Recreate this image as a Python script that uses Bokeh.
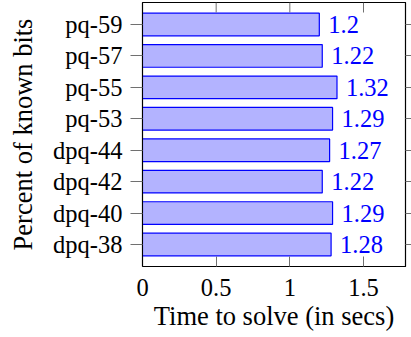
import math
from bokeh.plotting import figure
from bokeh.models import Range1d, FixedTicker, LinearAxis
from bokeh.embed import file_html
from bokeh.resources import INLINE
from bokeh.core.properties import value

# Data (top to bottom as shown)
categories = ["pq-59", "pq-57", "pq-55", "pq-53", "dpq-44", "dpq-42", "dpq-40", "dpq-38"]
times = [1.2, 1.22, 1.32, 1.29, 1.27, 1.22, 1.29, 1.28]
x_ticks = [0, 0.5, 1, 1.5]
x_tick_labels = ["0", "0.5", "1", "1.5"]

n = len(categories)
ypos = [n - 1 - i for i in range(n)]
labels = [f"{v:g}" for v in times]

FONT = "Liberation Serif"
FS = "24.5px"
TFS = "26.5px"
TICK_COLOR = "#707070"
Y_END = n - 1 + 0.7

p = figure(width=411, height=337, output_backend="svg", toolbar_location=None, title=None,
           x_range=Range1d(0, 1.785), y_range=Range1d(-0.7, Y_END),
           min_border_left=142, min_border_right=0, min_border_top=2, min_border_bottom=71)

p.hbar(y=ypos, left=0, right=times, height=0.72,
       fill_color="#b3b3ff", line_color="#0000ff", line_width=1.2)
p.text(x=times, y=ypos, text=labels, x_offset=9, text_align="left", text_baseline="middle",
       text_color="#0000ff", text_font=value(FONT), text_font_size=FS)

# top ticks (inside the frame)
p.ray(x=x_ticks, y=[Y_END] * len(x_ticks), length=10, length_units="screen",
      angle=-math.pi / 2, line_color=TICK_COLOR, line_width=1)

p.xgrid.visible = False
p.ygrid.visible = False
p.outline_line_color = "black"
p.outline_line_width = 1.2
p.outline_line_alpha = 1

# bottom x axis
xa = p.xaxis[0]
xa.ticker = FixedTicker(ticks=x_ticks)
xa.major_label_overrides = {t: l for t, l in zip(x_ticks, x_tick_labels)}
xa.major_tick_in = 10
xa.major_tick_out = 0
xa.minor_tick_line_color = None
xa.major_tick_line_color = TICK_COLOR
xa.axis_line_color = "black"
xa.major_label_standoff = 12
xa.major_label_text_font = FONT
xa.major_label_text_font_size = FS
xa.major_label_text_color = "black"
xa.axis_label = "Time to solve (in secs)"
xa.axis_label_text_font = FONT
xa.axis_label_text_font_size = TFS
xa.axis_label_text_font_style = "normal"
xa.axis_label_text_color = "black"
xa.axis_label_standoff = 2

# left y axis
ya = p.yaxis[0]
ya.ticker = FixedTicker(ticks=ypos)
ya.major_label_overrides = {y: c for y, c in zip(ypos, categories)}
ya.major_tick_in = 0
ya.major_tick_out = 12
ya.minor_tick_line_color = None
ya.major_tick_line_color = TICK_COLOR
ya.axis_line_color = "black"
ya.major_label_standoff = 8
ya.major_label_text_font = FONT
ya.major_label_text_font_size = FS
ya.major_label_text_color = "black"
ya.axis_label = "Percent of known bits"
ya.axis_label_text_font = FONT
ya.axis_label_text_font_size = TFS
ya.axis_label_text_font_style = "normal"
ya.axis_label_text_color = "black"
ya.axis_label_standoff = 12

# right axis (ticks only)
right = LinearAxis(ticker=FixedTicker(ticks=ypos), major_tick_in=0, major_tick_out=6,
                   minor_tick_line_color=None, major_tick_line_color=TICK_COLOR,
                   major_label_overrides={y: "" for y in ypos}, major_label_standoff=0,
                   axis_line_color="black")
p.add_layout(right, "right")

open("out.html", "w").write(file_html(p, INLINE))
